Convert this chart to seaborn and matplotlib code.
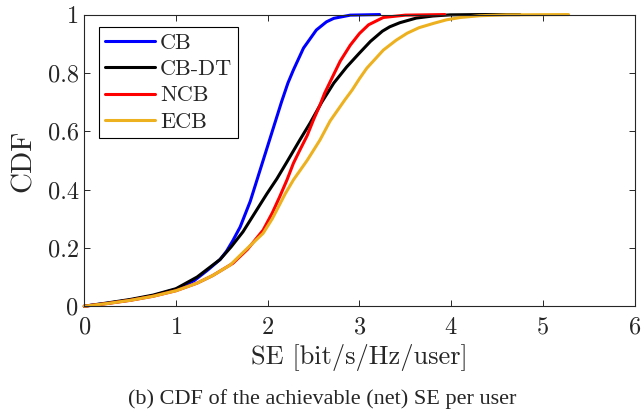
import numpy as np
import pandas as pd
import seaborn as sns
import matplotlib
matplotlib.use("Agg")
import matplotlib.pyplot as plt

# values
cb_x = [0, 0.25, 0.5, 0.75, 1.0, 1.2, 1.35, 1.48, 1.55, 1.62, 1.7, 1.81, 1.88, 1.99, 2.08, 2.15,
        2.22, 2.28, 2.39, 2.53, 2.64, 2.72, 2.9, 3.22]
cb_y = [0, 0.01, 0.021, 0.036, 0.058, 0.088, 0.125, 0.16, 0.188, 0.225, 0.272, 0.36, 0.43, 0.54, 0.63, 0.70,
        0.765, 0.81, 0.885, 0.947, 0.975, 0.987, 0.998, 1.0]

cbdt_x = [0, 0.25, 0.5, 0.75, 1.0, 1.23, 1.48, 1.6, 1.73, 1.85, 1.99, 2.1, 2.21, 2.35, 2.46, 2.59,
          2.72, 2.86, 3.0, 3.12, 3.25, 3.33, 3.44, 3.62, 3.8, 3.99, 4.3, 4.75]
cbdt_y = [0, 0.011, 0.023, 0.038, 0.06, 0.10, 0.16, 0.203, 0.255, 0.315, 0.385, 0.437, 0.495, 0.57, 0.627, 0.70,
          0.765, 0.82, 0.868, 0.908, 0.943, 0.958, 0.972, 0.988, 0.995, 0.999, 1.0, 1.0]

ncb_x = [0, 0.25, 0.5, 0.75, 1.0, 1.23, 1.4, 1.62, 1.78, 1.95, 2.05, 2.13, 2.21, 2.28, 2.35, 2.43,
         2.5, 2.57, 2.62, 2.72, 2.79, 2.9, 3.0, 3.1, 3.26, 3.5, 3.93]
ncb_y = [0, 0.009, 0.02, 0.034, 0.053, 0.079, 0.105, 0.147, 0.195, 0.261, 0.32, 0.375, 0.433, 0.49, 0.535, 0.585,
         0.64, 0.69, 0.73, 0.795, 0.84, 0.895, 0.935, 0.965, 0.99, 0.998, 1.0]

ecb_x = [0, 0.25, 0.5, 0.75, 1.0, 1.23, 1.4, 1.59, 1.75, 1.95, 2.05, 2.19, 2.28, 2.43, 2.57, 2.68,
         2.84, 2.92, 3.0, 3.08, 3.26, 3.4, 3.52, 3.65, 3.81, 3.95, 4.1, 4.31, 4.6, 5.28]
ecb_y = [0, 0.009, 0.02, 0.034, 0.053, 0.079, 0.105, 0.141, 0.19, 0.25, 0.30, 0.385, 0.433, 0.50, 0.57, 0.635,
         0.707, 0.741, 0.78, 0.816, 0.878, 0.912, 0.936, 0.955, 0.97, 0.982, 0.99, 0.996, 0.999, 1.0]

labels = ["CB", "CB-DT", "NCB", "ECB"]
colors = ["#0000FF", "#000000", "#FF0000", "#EDB120"]

sns.set_style("ticks")
plt.rcParams['font.family'] = ['cmr10', 'DejaVu Serif']
plt.rcParams['axes.formatter.use_mathtext'] = True
plt.rcParams['xtick.direction'] = 'in'
plt.rcParams['ytick.direction'] = 'in'

fig = plt.figure(figsize=(6.41, 4.16), dpi=100)
ax = fig.add_axes([0.1315, 0.264, 0.8585, 0.701])

series = [(cb_x, cb_y), (cbdt_x, cbdt_y), (ncb_x, ncb_y), (ecb_x, ecb_y)]
for (xs, ys), lab, col in zip(series, labels, colors):
    df = pd.DataFrame({"SE": xs, "CDF": ys})
    sns.lineplot(data=df, x="SE", y="CDF", color=col, lw=2.2, label=lab,
                 estimator=None, ax=ax, clip_on=False)

ax.set_xlim(0, 6)
ax.set_ylim(0, 1)
ax.set_xticks([0, 1, 2, 3, 4, 5, 6])
ax.set_yticks([0, 0.2, 0.4, 0.6, 0.8, 1])
ax.set_yticklabels(["0", "0.2", "0.4", "0.6", "0.8", "1"])
ax.tick_params(axis='both', labelsize=17.5, length=4, width=0.7, colors='#262626',
               top=True, right=True, pad=4)
ax.tick_params(axis='x', pad=7.5)
for sp in ax.spines.values():
    sp.set_linewidth(0.8)
    sp.set_color('#262626')
    sp.set_visible(True)

ax.set_xlabel("SE [bit/s/Hz/user]", fontsize=19, labelpad=4)
ax.set_ylabel("CDF", fontsize=21, labelpad=8)

leg = ax.legend(loc='upper left', bbox_to_anchor=(0.026, 0.956), fontsize=16,
                frameon=True, fancybox=False, framealpha=1, edgecolor='black',
                handlelength=2.25, handletextpad=0.25, labelspacing=0.3,
                borderpad=0.27, borderaxespad=0)
leg.get_frame().set_linewidth(0.8)

fig.text(0.503, 0.041, "(b) CDF of the achievable (net) SE per user",
         ha='center', va='center', fontsize=16, family='Liberation Serif')

fig.savefig("out.png", dpi=100)
